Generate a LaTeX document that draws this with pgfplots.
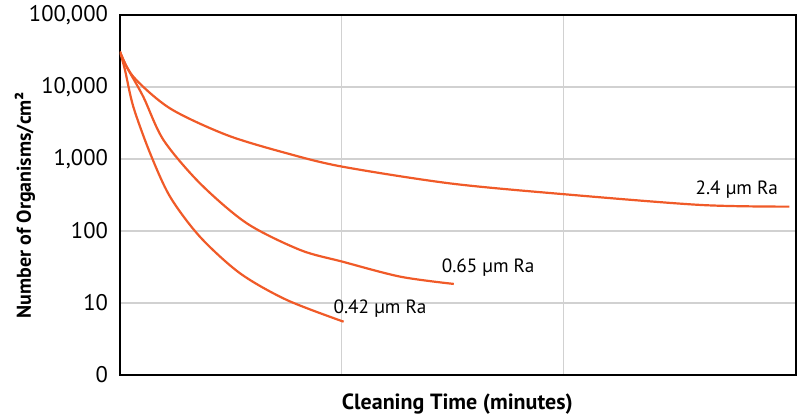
\documentclass[border=0pt]{standalone}
\usepackage{fontspec}
\setmainfont{PT Sans}
\usepackage{pgfplots}
\pgfplotsset{compat=1.18}
\usetikzlibrary{calc}
\definecolor{curve}{RGB}{240,90,40}

\begin{document}
\begin{tikzpicture}
\begin{axis}[
    scale only axis,
    width=338pt, height=180pt,
    xmin=0, xmax=3.05,
    ymode=log, ymin=1, ymax=100000,
    ytick={1,10,100,1000,10000,100000},
    yticklabels={0,10,100,{1,000},{10,000},{100,000}},
    xtick={1,2}, xticklabels={},
    grid=major,
    major grid style={draw=black!18, line width=0.6pt},
    axis line style={line width=1.1pt},
    tick style={draw=none},
    every tick label/.style={font=\fontsize{11.3}{13}\selectfont},
    yticklabel style={xshift=-2.5pt},
    xlabel={\bfseries Cleaning Time (minutes)},
    ylabel={\bfseries Number of Organisms/cm²},
    xlabel style={font=\fontsize{11}{13}\selectfont, at={(axis description cs:0.499,-0.08)}, anchor=center},
    ylabel style={font=\fontsize{10}{12}\selectfont, at={(axis description cs:-0.1405,0.472)}, anchor=center},
]
% 2.4 um Ra
\addplot[curve, line width=1.1pt, smooth, tension=0.5, no marks] coordinates {
    (0,30900) (0.06,13900) (0.226,5040) (0.482,2150) (0.753,1200)
    (1.004,782) (1.49,458) (2.0,325) (2.62,230) (3.02,218)
};
% 0.65 um Ra
\addplot[curve, line width=1.1pt, smooth, tension=0.5, no marks] coordinates {
    (0,30900) (0.03,19100) (0.105,7330) (0.196,1840) (0.361,459)
    (0.572,128) (0.813,54.5) (1.004,37.5) (1.265,23.2) (1.506,18.4)
};
% 0.42 um Ra
\addplot[curve, line width=1.1pt, smooth, tension=0.5, no marks] coordinates {
    (0,30900) (0.0226,17200) (0.06,5330) (0.136,1200) (0.226,299)
    (0.361,83) (0.542,25.8) (0.753,11.0) (1.009,5.5)
};
\node[anchor=east, font=\fontsize{9.6}{11}\selectfont] at (axis cs:3.0,371) {2.4 µm Ra};
\node[anchor=west, font=\fontsize{9.6}{11}\selectfont] at (axis cs:1.42,30.6) {0.65 µm Ra};
\node[anchor=west, font=\fontsize{9.6}{11}\selectfont] at (axis cs:0.932,8.5) {0.42 µm Ra};
\end{axis}
\pgfresetboundingbox
\path ($(current axis.south west)+(-60pt,-19.5pt)$) rectangle ($(current axis.north east)+(2.5pt,7.5pt)$);
\end{tikzpicture}
\end{document}
